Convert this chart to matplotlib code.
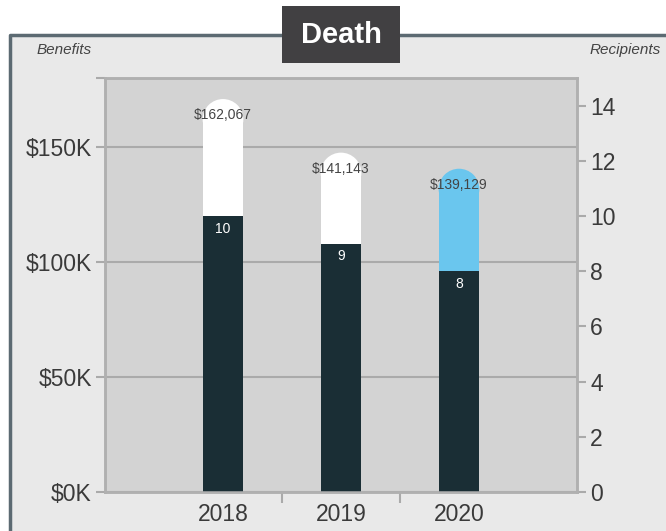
import numpy as np
import matplotlib.pyplot as plt
from matplotlib.patches import Rectangle
from matplotlib.lines import Line2D

# data
years = ['2018', '2019', '2020']
benefits = [162067, 141143, 139129]          # labels printed on bars
benefit_bars = [162000, 138700, 131700]      # bar heights as drawn
recipients = [10, 9, 8]
bar_colors = ['#ffffff', '#ffffff', '#6ac6ee']

left_ticks = [0, 50000, 100000, 150000, 180000]
left_labels = ['$0K', '$50K', '$100K', '$150K', '']
right_ticks = [0, 2, 4, 6, 8, 10, 12, 14]

W, H = 666, 531
fig = plt.figure(figsize=(W / 100, H / 100), dpi=100)
fig.patch.set_facecolor('white')


def fx(px):
    return px / W


def fy(py):
    return 1 - py / H


# panel background and frame
fig.patches.append(Rectangle((fx(10), 0), 1 - fx(10), fy(35), transform=fig.transFigure,
                             facecolor='#e9e9e9', edgecolor='none', zorder=-2))
fig.add_artist(Line2D([fx(10), fx(10), 1], [0, fy(35), fy(35)], color='#5c6a72',
                      lw=2.5, transform=fig.transFigure, zorder=-1))
# title box
fig.patches.append(Rectangle((fx(282), fy(63)), fx(118), 57 / H, transform=fig.transFigure,
                             facecolor='#414042', edgecolor='none', zorder=2))
fig.text(fx(341), fy(35), 'Death', color='white', fontsize=21, fontweight='bold',
         family=['Liberation Sans Narrow', 'Liberation Sans'], ha='center', va='center', zorder=3)

fig.text(fx(37), fy(50), 'Benefits', fontsize=11, style='italic', color='#444444',
         family='Liberation Sans', ha='left', va='center')
fig.text(fx(661), fy(50), 'Recipients', fontsize=11, style='italic', color='#444444',
         family='Liberation Sans', ha='right', va='center')

grey = '#aaaaaa'
txt = '#3a3a3a'
x = np.arange(len(years))
w = 0.345

ax = fig.add_axes([fx(105), fy(492), fx(577 - 105), (492 - 78) / H])
ax.set_facecolor('#d3d3d3')
ax.set_xlim(-1, 3)
ax.set_ylim(0, 180000)
ax2 = ax.twinx()
ax2.set_ylim(0, 15)

# benefit bars with rounded caps
ax.bar(x, benefit_bars, width=w, color=bar_colors, zorder=2)
d_px = ax.transData.transform((w, 0))[0] - ax.transData.transform((0, 0))[0]
ax.scatter(x, benefit_bars, s=(d_px * 72 / 100) ** 2, c=bar_colors, marker='o',
           linewidths=0, zorder=2)
for xi, h, b in zip(x, benefit_bars, benefits):
    ax.annotate(f'${b:,}', (xi, h), xytext=(0, 3), textcoords='offset points',
                ha='center', va='center', fontsize=10, color='#444444',
                family='Liberation Sans', zorder=4)

# recipients bars
ax2.bar(x, recipients, width=w, color='#1a2e35', zorder=2)
for xi, r in zip(x, recipients):
    ax2.annotate(str(r), (xi, r), xytext=(0, -9), textcoords='offset points',
                 ha='center', va='center', fontsize=10, color='white',
                 family='Liberation Sans')

# grid
ax.set_axisbelow(True)
ax.yaxis.grid(True, color=grey, lw=1.5)

# axes styling
for a in (ax, ax2):
    for s in a.spines.values():
        s.set_color('#b0b0b0')
        s.set_linewidth(1.8)

ax.set_yticks(left_ticks)
ax.set_yticklabels(left_labels)
ax.tick_params(axis='y', length=6.5, width=1.5, color=grey, pad=3, labelsize=16.5,
               labelcolor=txt)
ax2.set_yticks(right_ticks)
ax2.tick_params(axis='y', length=6.5, width=1.5, color=grey, pad=3, labelsize=16.5,
                labelcolor=txt)

ax.set_xticks(x)
ax.set_xticklabels(years)
ax.set_xticks([0.5, 1.5], minor=True)
ax.tick_params(axis='x', which='major', length=0, pad=8, labelsize=16.5, labelcolor=txt)
ax.tick_params(axis='x', which='minor', length=8, width=1.5, color=grey)

for lab in ax.get_xticklabels() + ax.get_yticklabels() + ax2.get_yticklabels():
    lab.set_family('Liberation Sans')

fig.savefig('out.png', dpi=100)
